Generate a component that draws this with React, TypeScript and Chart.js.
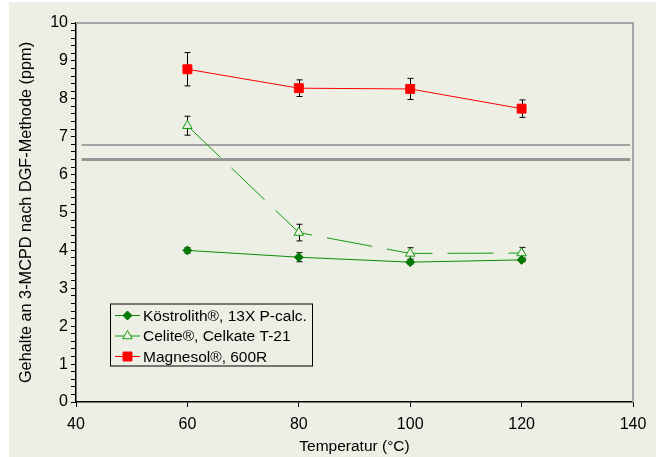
import React, { useEffect, useRef } from 'react';
import { Chart, registerables } from 'chart.js';

Chart.register(...registerables);

const temperatures = [60, 80, 100, 120];
const koestrolith = [4.0, 3.82, 3.69, 3.75];
const koestrolithErr = [0.07, 0.12, 0.05, 0.05];
const celite = [7.29, 4.47, 3.92, 3.93];
const celiteErr = [0.25, 0.22, 0.15, 0.15];
const magnesol = [8.78, 8.28, 8.26, 7.74];
const magnesolErr = [0.44, 0.22, 0.28, 0.23];
const limitValues = [6.78, 6.4];
const limitRange = [41, 139.5];
const seriesLabels = ['Köstrolith®, 13X P-calc.', 'Celite®, Celkate T-21', 'Magnesol®, 600R'];
const xTitle = 'Temperatur (°C)';
const yTitle = 'Gehalte an 3-MCPD nach DGF-Methode (ppm)';

const BG = '#EDEFE5';
const FONT = "'Liberation Sans', Arial, sans-serif";

function drawMarker(ctx: CanvasRenderingContext2D, style: string, x: number, y: number, r: number, fill: string, stroke: string) {
  ctx.save();
  ctx.beginPath();
  if (style === 'rectRot') {
    ctx.moveTo(x, y - r);
    ctx.lineTo(x + r, y);
    ctx.lineTo(x, y + r);
    ctx.lineTo(x - r, y);
    ctx.closePath();
  } else if (style === 'triangle') {
    ctx.moveTo(x, y - r);
    ctx.lineTo(x + r * 0.866, y + r * 0.5);
    ctx.lineTo(x - r * 0.866, y + r * 0.5);
    ctx.closePath();
  } else {
    const s = Math.SQRT1_2 * r;
    ctx.rect(x - s, y - s, 2 * s, 2 * s);
  }
  ctx.fillStyle = fill;
  ctx.fill();
  ctx.strokeStyle = stroke;
  ctx.lineWidth = 1;
  ctx.stroke();
  ctx.restore();
}

const errorBarPlugin = {
  id: 'errorBars',
  beforeDatasetsDraw(chart: any) {
    const { ctx, scales } = chart;
    ctx.save();
    ctx.strokeStyle = '#000';
    ctx.lineWidth = 1;
    chart.data.datasets.forEach((ds: any) => {
      if (!ds.errors) return;
      ds.data.forEach((p: any, i: number) => {
        const e = ds.errors[i];
        const px = Math.round(scales.x.getPixelForValue(p.x)) + 0.5;
        const yt = scales.y.getPixelForValue(p.y + e);
        const yb = scales.y.getPixelForValue(p.y - e);
        ctx.beginPath();
        ctx.moveTo(px, yt);
        ctx.lineTo(px, yb);
        ctx.moveTo(px - 3, yt);
        ctx.lineTo(px + 3, yt);
        ctx.moveTo(px - 3, yb);
        ctx.lineTo(px + 3, yb);
        ctx.stroke();
      });
    });
    ctx.restore();
  },
};

const frameLegendPlugin = {
  id: 'frameLegend',
  afterDraw(chart: any) {
    const { ctx, chartArea } = chart;
    ctx.save();
    ctx.strokeStyle = '#A6A6A6';
    ctx.lineWidth = 2;
    ctx.beginPath();
    ctx.moveTo(chartArea.left, chartArea.top);
    ctx.lineTo(chartArea.right, chartArea.top);
    ctx.lineTo(chartArea.right, chartArea.bottom);
    ctx.stroke();

    // legend
    const lx = chartArea.left + 34;
    const ly = chartArea.top + 280.5;
    const lw = 202;
    const lh = 62;
    ctx.fillStyle = BG;
    ctx.fillRect(lx, ly, lw, lh);
    ctx.strokeStyle = '#000';
    ctx.lineWidth = 1;
    ctx.strokeRect(lx + 0.5, ly + 0.5, lw, lh);
    ctx.font = `15.5px ${FONT}`;
    ctx.textBaseline = 'middle';
    ctx.textAlign = 'left';
    chart.data.datasets.slice(0, 3).forEach((ds: any, i: number) => {
      const cy = ly + 12 + i * 20.5;
      ctx.strokeStyle = ds.borderColor;
      ctx.lineWidth = 1;
      ctx.beginPath();
      ctx.moveTo(lx + 5, cy);
      ctx.lineTo(lx + 30, cy);
      ctx.stroke();
      drawMarker(ctx, ds.pointStyle, lx + 17.5, cy, ds.pointRadius, ds.pointBackgroundColor, ds.pointBorderColor);
      ctx.fillStyle = '#000';
      ctx.fillText(ds.label, lx + 33, cy + 1);
    });
    ctx.restore();
  },
};

export default function App() {
  const ref = useRef<HTMLCanvasElement>(null);
  useEffect(() => {
    if (!ref.current) return;
    const tickFont = { family: FONT, size: 16 };
    const xTitleFont = { family: FONT, size: 15.5 };
    const yTitleFont = { family: FONT, size: 16.3 };
    const pts = (ys: number[]) => temperatures.map((x, i) => ({ x, y: ys[i] }));
    const chart = new Chart(ref.current, {
      type: 'scatter',
      data: {
        datasets: [
          {
            label: seriesLabels[0],
            data: pts(koestrolith),
            errors: koestrolithErr,
            showLine: true,
            borderColor: '#0A8A0A',
            borderWidth: 1,
            pointStyle: 'rectRot',
            pointRadius: 4.5,
            pointBackgroundColor: '#007A00',
            pointBorderColor: '#007A00',
            pointBorderWidth: 1,
          } as any,
          {
            label: seriesLabels[1],
            data: pts(celite),
            errors: celiteErr,
            showLine: true,
            borderColor: '#109A10',
            borderWidth: 1,
            borderDash: [46, 15],
            pointStyle: 'triangle',
            pointRadius: 5.5,
            pointBackgroundColor: BG,
            pointBorderColor: '#109A10',
            pointBorderWidth: 1,
          } as any,
          {
            label: seriesLabels[2],
            data: pts(magnesol),
            errors: magnesolErr,
            showLine: true,
            borderColor: '#FF0000',
            borderWidth: 1,
            pointStyle: 'rect',
            pointRadius: 6.3,
            pointBackgroundColor: '#FF0000',
            pointBorderColor: '#FF0000',
            pointBorderWidth: 1,
          } as any,
          {
            label: 'limit1',
            data: limitRange.map((x) => ({ x, y: limitValues[0] })),
            showLine: true,
            borderColor: '#A2A2A2',
            borderWidth: 2,
            pointRadius: 0,
          },
          {
            label: 'limit2',
            data: limitRange.map((x) => ({ x, y: limitValues[1] })),
            showLine: true,
            borderColor: '#969696',
            borderWidth: 3,
            pointRadius: 0,
          },
        ],
      },
      options: {
        animation: false,
        responsive: false,
        events: [],
        layout: { padding: { left: 0, top: 21, right: 23, bottom: 0 } },
        plugins: { legend: { display: false }, tooltip: { enabled: false } },
        scales: {
          x: {
            type: 'linear',
            min: 40,
            max: 140,
            ticks: { stepSize: 20, color: '#000', font: tickFont, padding: 8, maxRotation: 0 },
            grid: { drawOnChartArea: false, drawTicks: true, tickLength: 5, color: '#000', lineWidth: 1 },
            border: { color: '#000', width: 1.5 },
            title: { display: true, text: xTitle, color: '#000', font: xTitleFont, padding: { top: 0, bottom: 1 } },
            afterFit: (s: any) => { s.height = 55; },
          },
          y: {
            type: 'linear',
            min: 0,
            max: 10,
            ticks: {
              stepSize: 0.2,
              autoSkip: false,
              color: '#000',
              font: tickFont,
              padding: 3,
              callback: (v: any) => (Math.abs(v - Math.round(v)) < 1e-6 ? String(Math.round(v)) : ''),
            },
            grid: { drawOnChartArea: false, drawTicks: true, tickLength: 5, color: '#000', lineWidth: 1 },
            border: { color: '#000', width: 1.5 },
            title: { display: true, text: yTitle, color: '#000', font: yTitleFont, padding: { top: 8, bottom: 0 } },
            afterFit: (s: any) => { s.width = 67; },
          },
        },
      },
      plugins: [errorBarPlugin, frameLegendPlugin],
    } as any);
    return () => chart.destroy();
  }, []);
  return (
    <div style={{ position: 'absolute', left: 9, top: 2, width: 647, height: 455, background: BG }}>
      <canvas ref={ref} width={647} height={455} style={{ display: 'block' }} />
    </div>
  );
}
